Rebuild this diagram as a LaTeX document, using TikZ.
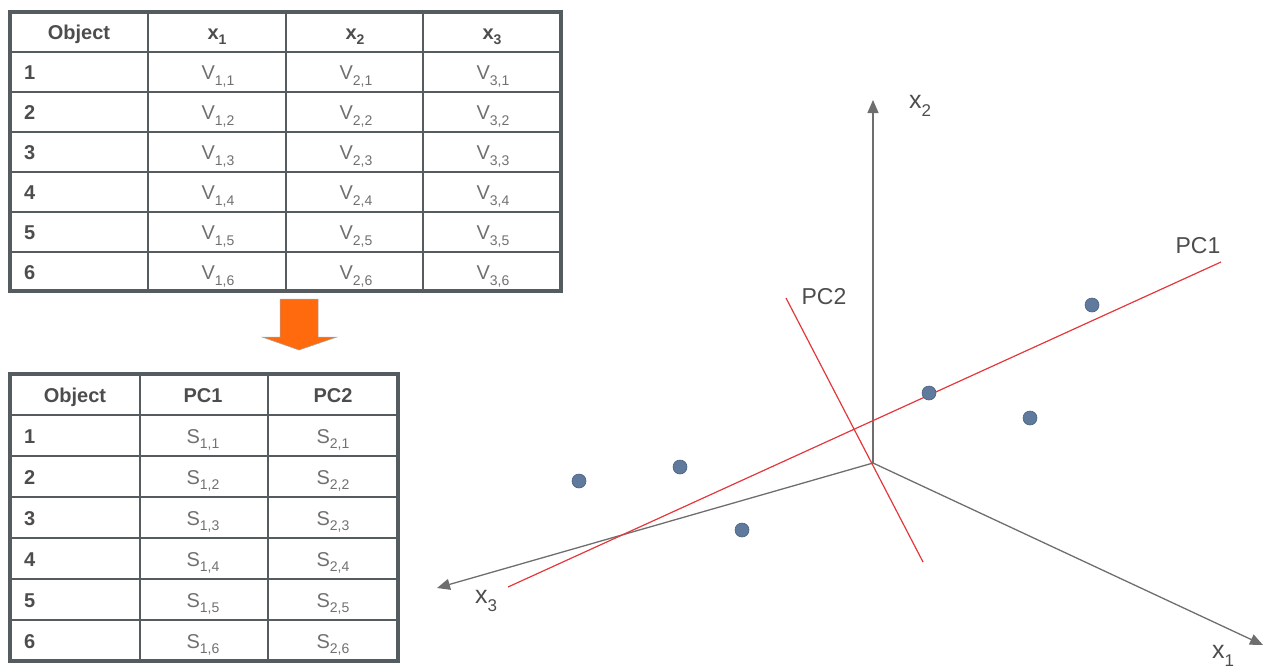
\documentclass[tikz,border=0pt]{standalone}
\usepackage{fontspec}
\setmainfont{Liberation Sans}
\usetikzlibrary{arrows.meta}
\definecolor{tabline}{HTML}{555C60}
\definecolor{headtxt}{HTML}{4D4D4D}
\definecolor{celltxt}{HTML}{707070}
\definecolor{axisgray}{HTML}{6E6E6E}
\definecolor{pcred}{HTML}{E2383C}
\definecolor{dotfill}{HTML}{5F7A9C}
\definecolor{dotdraw}{HTML}{4B6282}
\definecolor{arroworange}{HTML}{FF6A0E}
\newcommand\cellsub[2]{#1\raisebox{-0.28em}{\fontsize{14}{14}\selectfont #2}}
\newcommand\axsub[2]{#1\raisebox{-0.3em}{\fontsize{17}{17}\selectfont #2}}
\begin{document}
\begin{tikzpicture}[x=1pt,y=-1pt,
  outerframe/.style={draw=tabline,line width=4pt},
  innerline/.style={draw=tabline,line width=2pt},
  headcell/.style={font=\fontsize{20}{20}\selectfont\bfseries,text=headtxt,inner sep=0pt,anchor=base},
  numcell/.style={font=\fontsize{20}{20}\selectfont\bfseries,text=headtxt,inner sep=0pt,anchor=base west},
  valcell/.style={font=\fontsize{20}{20}\selectfont,text=celltxt,inner sep=0pt,anchor=base},
  axisline/.style={draw=axisgray,line width=1.3pt,-{Triangle[length=13pt,width=11pt]}},
  axislabel/.style={font=\fontsize{25}{25}\selectfont,text=headtxt,inner sep=0pt},
  pcline/.style={draw=pcred,line width=1.2pt},
  pclabel/.style={font=\fontsize{23}{23}\selectfont,text=headtxt,inner sep=0pt},
  datadot/.style={circle,fill=dotfill,draw=dotdraw,line width=0.6pt,minimum size=14pt,inner sep=0pt}
]
\useasboundingbox (0,0) rectangle (1264,670);

% ---------- top table ----------
\draw[outerframe] (10,12) rectangle (561,291);
\foreach \x in {148,286,423} \draw[innerline] (\x,12) -- (\x,291);
\foreach \y in {52,92,132,172,212,252} \draw[innerline] (10,\y) -- (561,\y);
\node[headcell] (ta-h0) at (79,39) {Object};
\node[headcell] (ta-h1) at (217,39) {\cellsub{x}{1}};
\node[headcell] (ta-h2) at (355,39) {\cellsub{x}{2}};
\node[headcell] (ta-h3) at (492,39) {\cellsub{x}{3}};
\foreach \r [evaluate=\r as \yb using 39.5+40*\r] in {1,...,6} {
  \node[numcell] (ta-\r-0) at (24,\yb) {\r};
  \node[valcell] (ta-\r-1) at (218,\yb) {\cellsub{V}{1,\r}};
  \node[valcell] (ta-\r-2) at (356,\yb) {\cellsub{V}{2,\r}};
  \node[valcell] (ta-\r-3) at (493,\yb) {\cellsub{V}{3,\r}};
}

% ---------- orange arrow ----------
\draw[draw=gray!70,line width=0.5pt,fill=arroworange]
  (280,299) -- (318,299) -- (318,337) -- (337,337) -- (299,350) -- (262,337) -- (280,337) -- cycle;

% ---------- bottom table ----------
\draw[outerframe] (10,374) rectangle (398,661);
\foreach \x in {140,268} \draw[innerline] (\x,374) -- (\x,661);
\foreach \y in {415,456,497,538,579,620} \draw[innerline] (10,\y) -- (398,\y);
\node[headcell] (tb-h0) at (75,402) {Object};
\node[headcell] (tb-h1) at (203,402) {PC1};
\node[headcell] (tb-h2) at (333,402) {PC2};
\foreach \r [evaluate=\r as \yb using 402+41*\r] in {1,...,6} {
  \node[numcell] (tb-\r-0) at (24,\yb) {\r};
  \node[valcell] (tb-\r-1) at (203,\yb) {\cellsub{S}{1,\r}};
  \node[valcell] (tb-\r-2) at (333,\yb) {\cellsub{S}{2,\r}};
}

% ---------- 3D axes ----------
\coordinate (O) at (873,463);
\coordinate (x2tip) at (873,100);
\coordinate (x3tip) at (437,588);
\coordinate (x1tip) at (1263,645);
\draw[axisline] (O) -- (x2tip);
\draw[axisline] (O) -- (x3tip);
\draw[axisline] (O) -- (x1tip);
\node[axislabel] (lx2) at (920,106) {\axsub{x}{2}};
\node[axislabel] (lx3) at (486,601) {\axsub{x}{3}};
\node[axislabel] (lx1) at (1223,656) {\axsub{x}{1}};

% ---------- principal components ----------
\coordinate (pc1a) at (508,587);
\coordinate (pc1b) at (1221,262);
\coordinate (pc2a) at (786,298);
\coordinate (pc2b) at (923,562);
\draw[pcline] (pc1a) -- (pc1b);
\draw[pcline] (pc2a) -- (pc2b);
\node[pclabel] (lpc1) at (1198,246) {PC1};
\node[pclabel] (lpc2) at (824,297) {PC2};

% ---------- data points ----------
\node[datadot] (p1) at (579,481) {};
\node[datadot] (p2) at (680,467) {};
\node[datadot] (p3) at (742,530) {};
\node[datadot] (p4) at (929,393) {};
\node[datadot] (p5) at (1030,418) {};
\node[datadot] (p6) at (1092,305) {};
\end{tikzpicture}
\end{document}
